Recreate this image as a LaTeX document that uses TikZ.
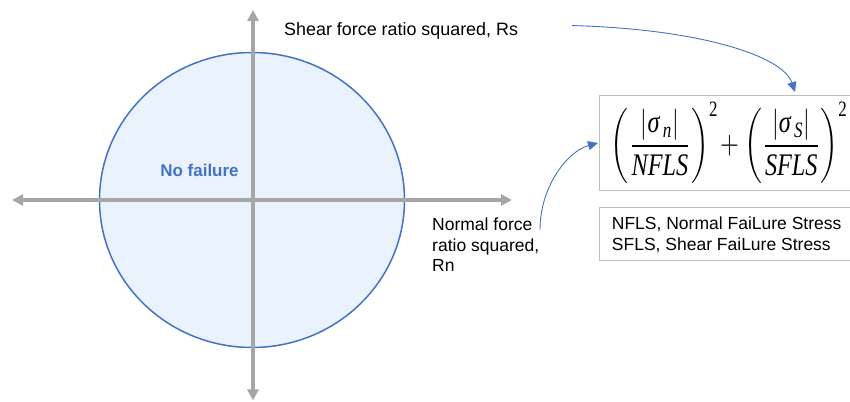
\documentclass[tikz,border=0pt]{standalone}
\usepackage{fontspec}
\usepackage{amsmath}
\usepackage{graphicx}
\setmainfont{Liberation Serif}
\newfontfamily\arial{Liberation Sans}
\usetikzlibrary{arrows.meta}
\definecolor{axisgray}{HTML}{A6A6A6}
\definecolor{ppblue}{HTML}{4472C4}
\definecolor{lightfill}{HTML}{E9F2FD}
\definecolor{boxgray}{HTML}{BFBFBF}
\tikzset{
  axisline/.style={draw=axisgray, line width=3.5pt, -{Triangle[length=11pt,width=11pt]}},
  curvearrow/.style={draw=ppblue, line width=0.9pt, -{Triangle[length=10pt,width=9pt]}},
  label/.style={font=\arial\fontsize{17.5}{20.9}\selectfont, inner sep=0pt, align=left},
  greybox/.style={draw=boxgray, line width=1pt, rectangle, inner sep=0pt}
}
\begin{document}
\begin{tikzpicture}[x=1pt,y=1pt]
\useasboundingbox (0,0) rectangle (850,401);
% circle
\draw[draw=ppblue, line width=1.5pt, fill=lightfill] (252,201) ellipse [x radius=152.5, y radius=147.5];
% axes
\coordinate (o) at (253,201);
\coordinate (xl) at (12,201);
\coordinate (xr) at (512,201);
\coordinate (yt) at (253,391);
\coordinate (yb) at (253,0.5);
\draw[axisline] (o) -- (xl);
\draw[axisline] (o) -- (xr);
\draw[axisline] (o) -- (yt);
\draw[axisline] (o) -- (yb);
% texts
\node[font=\arial\bfseries\fontsize{17}{20}\selectfont, text=ppblue, inner sep=0pt] (nofail) at (199.5,231) {No failure};
\node[label, font=\arial\fontsize{17.9}{21}\selectfont, anchor=base west] (shear) at (284,365.8) {Shear force ratio squared, Rs};
\node[label, anchor=north west] (normal) at (432,183.7) {Normal force\\ratio squared,\\Rn};
% boxes
\node[greybox, minimum width=253pt, minimum height=95pt, anchor=north west] (fbox) at (599,306) {};
\node[greybox, minimum width=253pt, minimum height=53.3pt, anchor=north west] (lbox) at (599,194.3) {};
\node[inner sep=0pt] (formula) at (729.5,258.5) {\resizebox*{237pt}{82pt}{$\displaystyle\left(\frac{\left|\text{\itshape σ}_{\,\text{\itshape n}}\right|}{\text{\itshape NFLS}}\right)^{\text{2}}\!+\left(\frac{\left|\text{\itshape σ}_{\,\text{\itshape S}}\right|}{\text{\itshape SFLS}}\right)^{\text{2}}$}};
\node[label, anchor=north west] (legend) at (611.7,184.3) {NFLS, Normal FaiLure Stress\\SFLS, Shear FaiLure Stress};
% curved arrows
\coordinate (tipS) at (795,309);
\coordinate (tipN) at (598,258);
\draw[curvearrow] ([xshift=54pt,yshift=5pt]shear.east) .. controls (700,372) and (783,345) .. (tipS);
\draw[curvearrow] ([xshift=108pt,yshift=-12.7pt]normal.north west) .. controls (540,215) and (568,250) .. (tipN);
\end{tikzpicture}
\end{document}
